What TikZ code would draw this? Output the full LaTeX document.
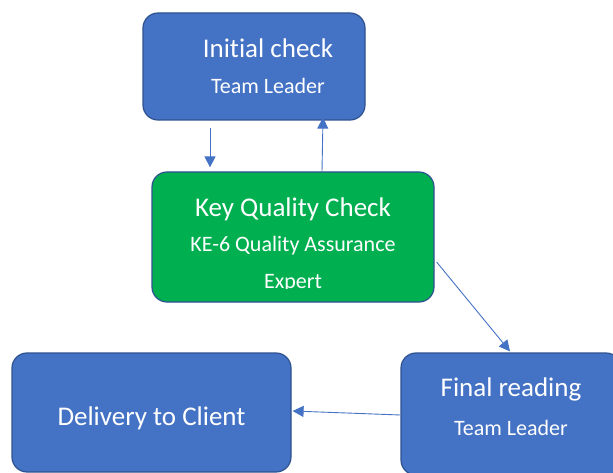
\documentclass[tikz,border=0pt]{standalone}
\usepackage{fontspec}
\setmainfont{Carlito}[Ligatures=NoCommon]
\usetikzlibrary{arrows.meta,calc}
\definecolor{boxblue}{HTML}{4472C4}
\definecolor{boxline}{HTML}{2F528F}
\definecolor{boxgreen}{HTML}{00B050}
\tikzset{
  bluebox/.style={draw=boxline,line width=1.2pt,fill=boxblue,rounded corners=15pt},
  greenbox/.style={draw=boxline,line width=1.2pt,fill=boxgreen,rounded corners=15pt},
  title/.style={text=white,font=\fontsize{27}{32}\selectfont},
  sub/.style={text=white,font=\fontsize{22}{26}\selectfont},
  link/.style={draw=boxblue,line width=0.9pt,-{Triangle[length=11pt,width=11pt]}}
}
\begin{document}
\begin{tikzpicture}[x=1pt,y=-1pt]
  \useasboundingbox (0,0) rectangle (613,473);
  \clip (0,0) rectangle (613,473);
  % boxes
  \node[bluebox,minimum width=222pt,minimum height=107pt] (init) at (254,66.5) {};
  \node[greenbox,minimum width=282pt,minimum height=130pt] (kqc) at (293,237) {};
  \node[bluebox,minimum width=279pt,minimum height=119pt] (deliv) at (151.5,412.5) {};
  \node[bluebox,minimum width=220pt,minimum height=122pt] (fin) at (511,414) {};
  % texts
  \node[title] (initT) at (268,48) {Initial check};
  \node[sub] (initS) at (268,86) {Team Leader};
  \node[title] (kqcT) at (293,209) {Key Quality Check};
  \node[sub] (kqcS) at (293,246) {KE-6 Quality Assurance};
  \begin{scope}
    \clip (150,250) rectangle (440,288);
    \node[sub] (kqcE) at (293,283) {Expert};
  \end{scope}
  \node[title] (delivT) at (151.5,418) {Delivery to Client};
  \node[title] (finT) at (511,389) {Final reading};
  \node[sub] (finS) at (511,428) {Team Leader};
  % connectors
  \draw[link] ($(init.south)+(-44,7)$) -- ($(kqc.north)+(-83,-4)$);
  \draw[link] ($(kqc.north)+(29,0)$) -- ($(init.south)+(69,-3)$);
  \draw[link] ($(kqc.east)+(2,25)$) -- ($(fin.north)+(-1,-1)$);
  \draw[link] ($(fin.west)+(0,1)$) -- ($(deliv.east)+(1,-1.5)$);
\end{tikzpicture}
\end{document}
